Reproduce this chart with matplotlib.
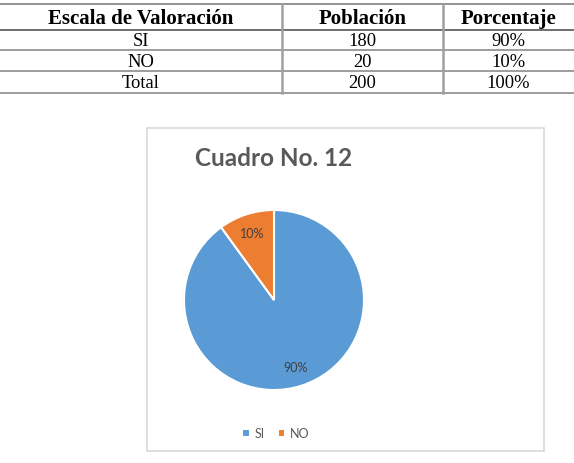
import matplotlib.pyplot as plt
from matplotlib.patches import Rectangle

# datos de la tabla
header = ["Escala de Valoración", "Población", "Porcentaje"]
escala = ["SI", "NO", "Total"]
poblacion = [180, 20, 200]
porcentaje = ["90%", "10%", "100%"]

# datos del gráfico
titulo = "Cuadro No. 12"
labels = ["SI", "NO"]
valores = [180, 20]
colores = ["#5B9BD5", "#ED7D31"]

W, H = 574, 464
fig = plt.figure(figsize=(W / 100, H / 100), dpi=100)

# capa de fondo en coordenadas de pixel
bg = fig.add_axes([0, 0, 1, 1])
bg.set_xlim(0, W)
bg.set_ylim(H, 0)
bg.axis("off")

# tabla
col_x = [0, 282, 443, 574]
row_y = [5, 31, 51, 72, 94]
bg.plot([0, W], [row_y[0], row_y[0]], color="#7f7f7f", lw=1.2)
bg.plot([0, W], [row_y[1], row_y[1]], color="#555555", lw=1.2)
for y in row_y[2:]:
    bg.plot([0, W], [y, y], color="#8c8c8c", lw=1.2)
for x in col_x[1:3]:
    bg.plot([x, x], [row_y[0], row_y[-1]], color="#a0a0a0", lw=1.8)

serif = "Liberation Serif"
for j, h in enumerate(header):
    cx = (col_x[j] + col_x[j + 1]) / 2
    bg.text(cx, (row_y[0] + row_y[1]) / 2 + 1, h, ha="center", va="center",
            fontsize=15, fontweight="bold", family=serif, color="black")
for i in range(len(escala)):
    cy = (row_y[i + 1] + row_y[i + 2]) / 2 + 1
    fila = [escala[i], str(poblacion[i]), porcentaje[i]]
    for j, v in enumerate(fila):
        cx = (col_x[j] + col_x[j + 1]) / 2
        bg.text(cx, cy, v, ha="center", va="center", fontsize=13.3,
                family=serif, color="black")

# marco del gráfico
bg.add_patch(Rectangle((147, 129), 397, 323, fill=False, ec="#d9d9d9", lw=1.2))

sans = "Lato"
bg.text(274, 159, titulo, ha="center", va="center", fontsize=17.5,
        fontweight="bold", family=sans, color="#595959")

# pastel
cx, cy, r = 274, 301, 90
ax = fig.add_axes([(cx - r) / W, (H - cy - r) / H, 2 * r / W, 2 * r / H])
wedges, texts, autotexts = ax.pie(
    valores,
    colors=colores,
    startangle=90,
    counterclock=False,
    autopct="%1.0f%%",
    pctdistance=0.78,
    wedgeprops=dict(edgecolor="white", linewidth=1.5),
    textprops=dict(fontsize=9, color="#404040", family=sans),
)
ax.set_xlim(-1, 1)
ax.set_ylim(-1, 1)

# leyenda
leg = fig.legend(
    wedges, labels,
    loc="center", bbox_to_anchor=(276 / W, 1 - 434 / H),
    ncol=2, frameon=False, handlelength=0.6, handleheight=0.6,
    handletextpad=0.4, columnspacing=1.0,
    prop=dict(family=sans, size=9),
)
for t in leg.get_texts():
    t.set_color("#595959")

fig.savefig("out.png", dpi=100)
